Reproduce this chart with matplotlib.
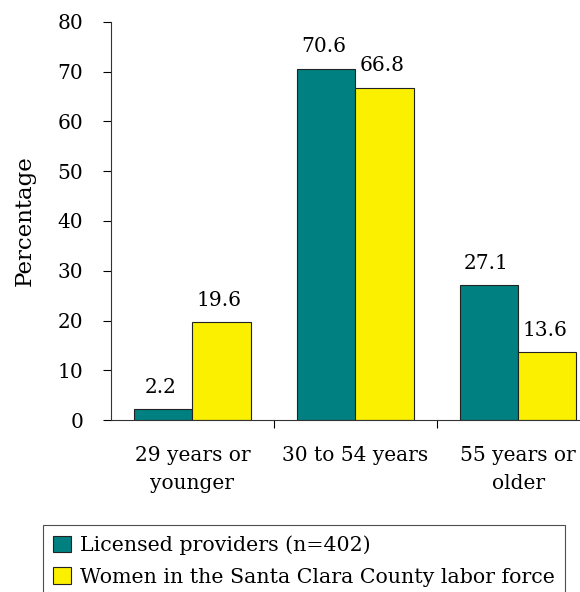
import matplotlib
matplotlib.use("Agg")
import matplotlib.pyplot as plt
import numpy as np

# Data
categories = ["29 years or\nyounger", "30 to 54 years", "55 years or\nolder"]
licensed = [2.2, 70.6, 27.1]
women_labor = [19.6, 66.8, 13.6]
series_names = ["Licensed providers (n=402)",
                "Women in the Santa Clara County labor force"]
yticks = [0, 10, 20, 30, 40, 50, 60, 70, 80]

plt.rcParams['font.family'] = ['DejaVu Serif']

fig = plt.figure(figsize=(5.8, 5.92), dpi=100)
ax = fig.add_axes([111 / 580, 1 - 420 / 592, 1 - 111 / 580, (420 - 22) / 592])

x = np.arange(len(categories))
w = 0.358
b1 = ax.bar(x - w / 2, licensed, w, color="#008080", edgecolor="#222222",
            linewidth=0.8, label=series_names[0])
b2 = ax.bar(x + w / 2, women_labor, w, color="#FBF000", edgecolor="#222222",
            linewidth=0.8, label=series_names[1])

for bars, vals in [(b1, licensed), (b2, women_labor)]:
    for r, v in zip(bars, vals):
        ax.annotate(f"{v:.1f}", (r.get_x() + r.get_width() / 2, v),
                    xytext=(-2, 9), textcoords="offset points",
                    ha="center", va="bottom", fontsize=14.5)

ax.set_ylim(0, 80)
ax.set_xlim(-0.5, 2.38)
ax.set_yticks(yticks)
ax.tick_params(axis="y", labelsize=14.5, length=6, width=0.8, pad=14)
ax.set_xticks(x)
ax.set_xticklabels(categories, fontsize=14.5, linespacing=1.6)
ax.set_xticks([0.5, 1.5], minor=True)
ax.tick_params(axis="x", which="major", length=0, pad=19)
ax.tick_params(axis="x", which="minor", length=6, width=0.8, direction="out")
for s in ["top", "right"]:
    ax.spines[s].set_visible(False)
for s in ["left", "bottom"]:
    ax.spines[s].set_color("#333333")
    ax.spines[s].set_linewidth(0.8)

fig.text(25 / 580, 1 - 221 / 592, "Percentage", rotation=90,
         ha="center", va="center", fontsize=16.5)

leg = fig.legend(handles=[b1, b2], loc="upper left",
                 bbox_to_anchor=(43 / 580, 1 - 525 / 592), borderaxespad=0,
                 fancybox=False, edgecolor="#222222", fontsize=14.8,
                 handlelength=0.85, handleheight=0.85, handletextpad=0.45,
                 labelspacing=0.6, borderpad=0.5)
leg.get_frame().set_linewidth(0.8)

fig.savefig("out.png", dpi=100)
